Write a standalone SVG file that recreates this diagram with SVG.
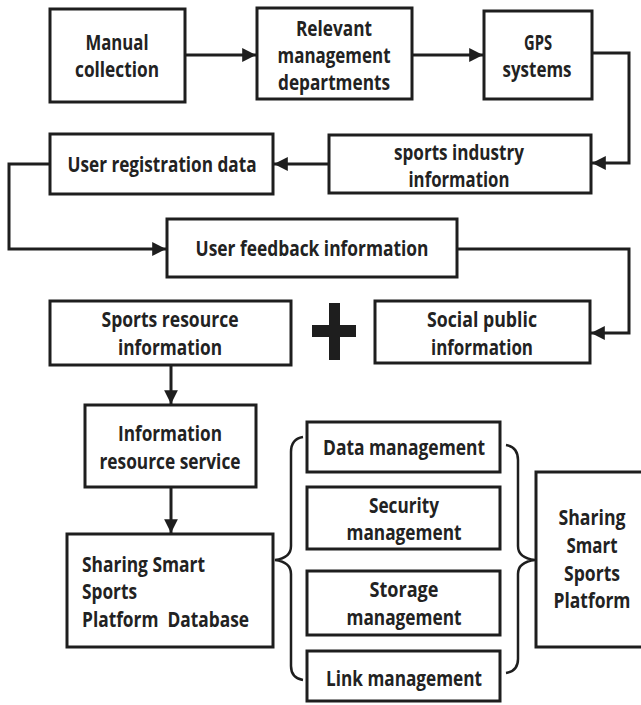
<svg xmlns="http://www.w3.org/2000/svg" width="641" height="705" viewBox="0 0 641 705">
<defs>
<style>
.box{fill:#fff;stroke:#1e1e1e;stroke-width:3}
.t{font-family:"Open Sans","Liberation Sans",sans-serif;font-weight:bold;font-size:21px;fill:#222;text-anchor:middle}
.tl{text-anchor:start}
.ln{fill:none;stroke:#1e1e1e;stroke-width:3}
.br{fill:none;stroke:#1e1e1e;stroke-width:2.5}
</style>
<marker id="ah" viewBox="0 0 10 10" refX="10" refY="5" markerWidth="5" markerHeight="4.6" orient="auto" markerUnits="strokeWidth">
<path d="M0,0 L10,5 L0,10 Z" fill="#1e1e1e"/>
</marker>
</defs>
<rect width="641" height="705" fill="#fff"/>

<g id="connectors">
<path class="ln" d="M185,55 H256" marker-end="url(#ah)"/>
<path class="ln" d="M412,55 H483" marker-end="url(#ah)"/>
<path class="ln" d="M592,53 H629 V163 H592" marker-end="url(#ah)"/>
<path class="ln" d="M329,164 H274" marker-end="url(#ah)"/>
<path class="ln" d="M50,164 H9 V249 H166" marker-end="url(#ah)"/>
<path class="ln" d="M458,249 H629 V333 H591" marker-end="url(#ah)"/>
<path class="ln" d="M171,365 V404" marker-end="url(#ah)"/>
<path class="ln" d="M171,487 V533" marker-end="url(#ah)"/>
<path class="br" d="M303,437 Q291,439 291,452 V546 Q291,558 275,560 Q291,562 291,574 V666 Q291,678 303,680"/>
<path class="br" d="M506,445 Q518,447 518,460 V546 Q518,558 535,560 Q518,562 518,574 V659 Q518,671 506,673"/>
</g>

<g id="plus">
<rect x="329" y="303" width="11" height="57" fill="#1e1e1e"/>
<rect x="312" y="325" width="44" height="12" fill="#1e1e1e"/>
</g>

<g id="manual">
<rect class="box" x="50" y="9" width="135" height="93"/>
<text class="t" x="117" y="50" textLength="63" lengthAdjust="spacingAndGlyphs">Manual</text>
<text class="t" x="117" y="77" textLength="84" lengthAdjust="spacingAndGlyphs">collection</text>
</g>

<g id="relevant">
<rect class="box" x="257" y="8" width="155" height="91"/>
<text class="t" x="334" y="36" textLength="76" lengthAdjust="spacingAndGlyphs">Relevant</text>
<text class="t" x="334" y="63" textLength="113" lengthAdjust="spacingAndGlyphs">management</text>
<text class="t" x="334" y="90" textLength="112" lengthAdjust="spacingAndGlyphs">departments</text>
</g>

<g id="gps">
<rect class="box" x="484" y="11" width="108" height="88"/>
<text class="t" x="538" y="50" textLength="28" lengthAdjust="spacingAndGlyphs">GPS</text>
<text class="t" x="537" y="77" textLength="69" lengthAdjust="spacingAndGlyphs">systems</text>
</g>

<g id="sports-industry">
<rect class="box" x="329" y="135" width="262" height="58"/>
<text class="t" x="459" y="160" textLength="130" lengthAdjust="spacingAndGlyphs">sports industry</text>
<text class="t" x="459" y="187" textLength="101" lengthAdjust="spacingAndGlyphs">information</text>
</g>

<g id="user-registration">
<rect class="box" x="50" y="134" width="223" height="60"/>
<text class="t" x="162" y="172" textLength="189" lengthAdjust="spacingAndGlyphs">User registration data</text>
</g>

<g id="user-feedback">
<rect class="box" x="167" y="219" width="290" height="58"/>
<text class="t" x="312" y="256" textLength="233" lengthAdjust="spacingAndGlyphs">User feedback information</text>
</g>

<g id="sports-resource">
<rect class="box" x="50" y="301" width="241" height="64"/>
<text class="t" x="170" y="327" textLength="137" lengthAdjust="spacingAndGlyphs">Sports resource</text>
<text class="t" x="170" y="355" textLength="104" lengthAdjust="spacingAndGlyphs">information</text>
</g>

<g id="social-public">
<rect class="box" x="375" y="301" width="215" height="62"/>
<text class="t" x="482" y="327" textLength="110" lengthAdjust="spacingAndGlyphs">Social public</text>
<text class="t" x="482" y="355" textLength="102" lengthAdjust="spacingAndGlyphs">information</text>
</g>

<g id="info-resource-service">
<rect class="box" x="85" y="405" width="171" height="82"/>
<text class="t" x="170" y="441" textLength="104" lengthAdjust="spacingAndGlyphs">Information</text>
<text class="t" x="170" y="469" textLength="141" lengthAdjust="spacingAndGlyphs">resource service</text>
</g>

<g id="database">
<rect class="box" x="67" y="534" width="206" height="113"/>
<text class="t tl" x="82" y="572" textLength="123" lengthAdjust="spacingAndGlyphs">Sharing Smart</text>
<text class="t tl" x="82" y="599" textLength="55" lengthAdjust="spacingAndGlyphs">Sports</text>
<text class="t tl" x="82" y="627" textLength="167" lengthAdjust="spacingAndGlyphs" xml:space="preserve">Platform  Database</text>
</g>

<g id="data-management">
<rect class="box" x="307" y="422" width="193" height="50"/>
<text class="t" x="404" y="455" textLength="162" lengthAdjust="spacingAndGlyphs">Data management</text>
</g>

<g id="security-management">
<rect class="box" x="307" y="487" width="193" height="62"/>
<text class="t" x="404" y="513" textLength="70" lengthAdjust="spacingAndGlyphs">Security</text>
<text class="t" x="404" y="540" textLength="115" lengthAdjust="spacingAndGlyphs">management</text>
</g>

<g id="storage-management">
<rect class="box" x="307" y="571" width="193" height="64"/>
<text class="t" x="404" y="597" textLength="69" lengthAdjust="spacingAndGlyphs">Storage</text>
<text class="t" x="404" y="625" textLength="115" lengthAdjust="spacingAndGlyphs">management</text>
</g>

<g id="link-management">
<rect class="box" x="307" y="651" width="193" height="50"/>
<text class="t" x="404" y="686" textLength="156" lengthAdjust="spacingAndGlyphs">Link management</text>
</g>

<g id="platform">
<rect class="box" x="536" y="472" width="120" height="175"/>
<text class="t" x="592" y="525" textLength="67" lengthAdjust="spacingAndGlyphs">Sharing</text>
<text class="t" x="592" y="553" textLength="51" lengthAdjust="spacingAndGlyphs">Smart</text>
<text class="t" x="592" y="581" textLength="56" lengthAdjust="spacingAndGlyphs">Sports</text>
<text class="t" x="592" y="608" textLength="77" lengthAdjust="spacingAndGlyphs">Platform</text>
</g>
</svg>
